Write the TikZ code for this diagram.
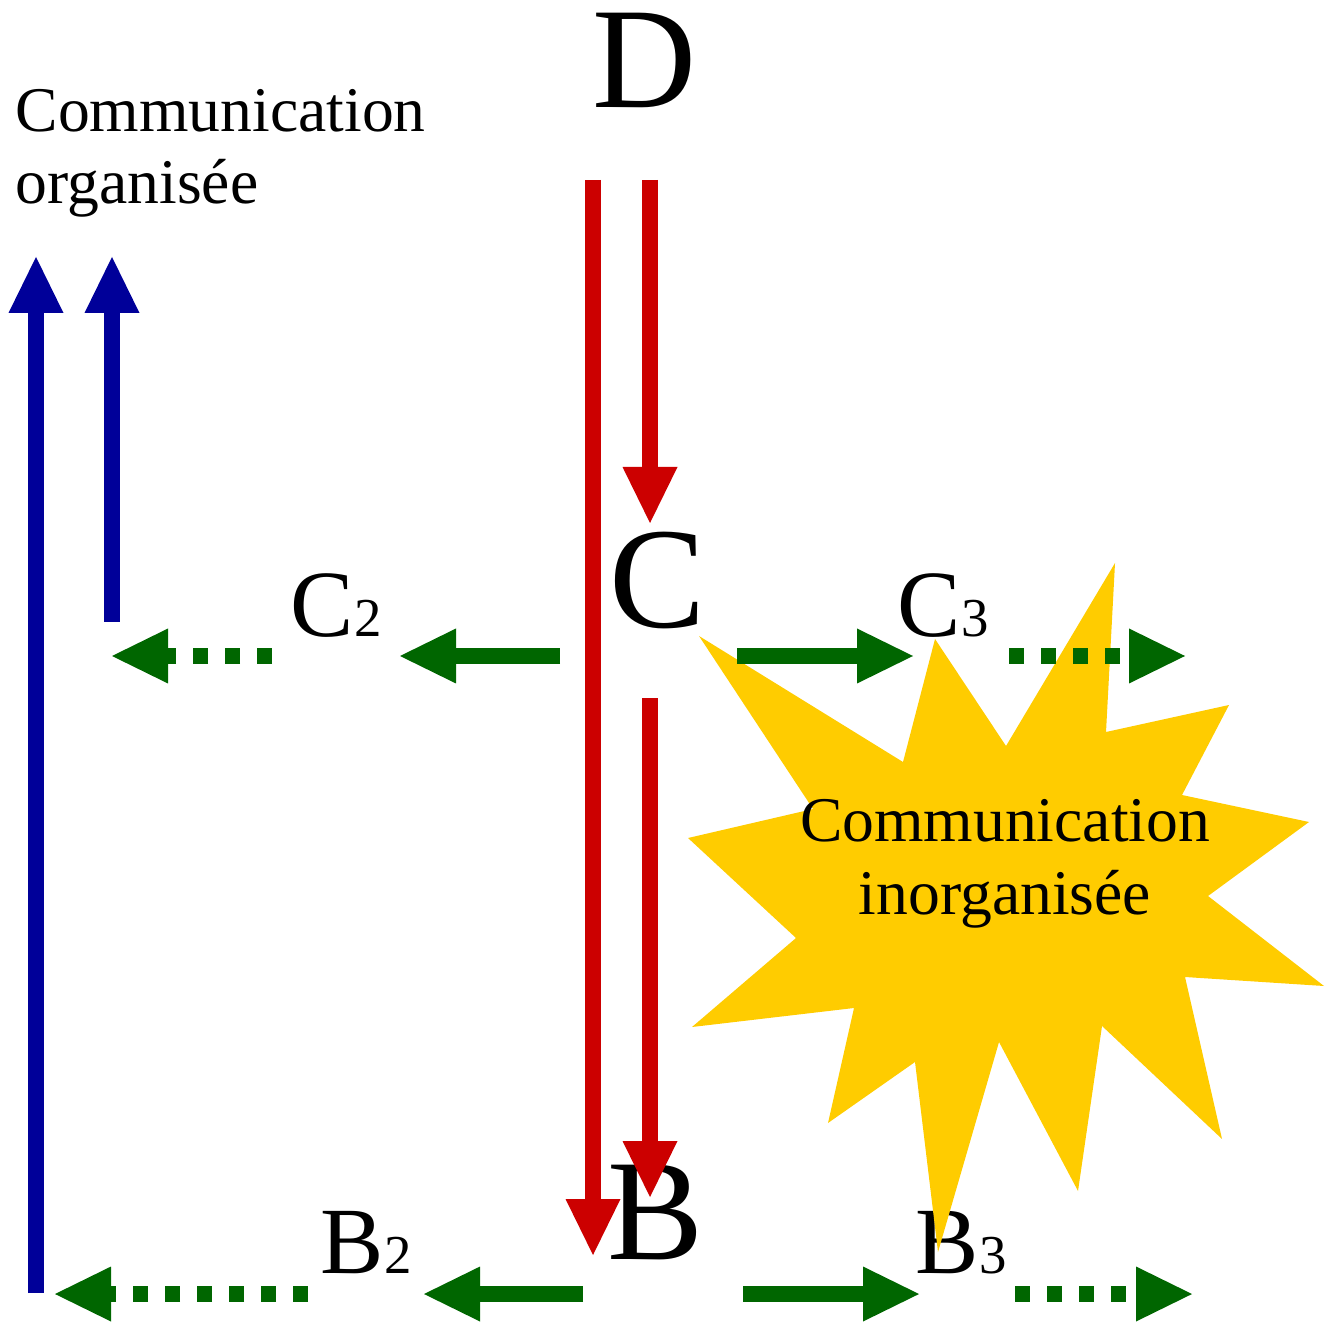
\documentclass[tikz,border=0pt]{standalone}
\usepackage{fontspec}
\setmainfont{Liberation Serif}
\usetikzlibrary{arrows.meta}

\definecolor{orgblue}{RGB}{0,0,153}
\definecolor{flowred}{RGB}{204,0,0}
\definecolor{sidegreen}{RGB}{0,102,0}
\definecolor{burstyellow}{RGB}{255,204,0}

\tikzset{
  flow/.style={line width=1.6mm, -{Triangle[length=5.6mm,width=5.5mm,line width=0pt]}},
  up/.style={flow, draw=orgblue},
  down/.style={flow, draw=flowred},
  side/.style={flow, draw=sidegreen},
  sidedots/.style={side, dash pattern=on 1.5mm off 1.7mm},
  big/.style={font=\fontsize{41}{41}\selectfont, inner sep=0pt, anchor=base},
  lbl/.style={font=\fontsize{27}{27}\selectfont, inner sep=0pt, anchor=base west},
  txt/.style={font=\fontsize{18.1}{20.5}\selectfont, inner sep=0pt},
  burst/.style={fill=burstyellow}
}
\newcommand{\idx}[2]{#1{\fontsize{15.6}{16}\selectfont #2}}

\begin{document}
\begin{tikzpicture}
\useasboundingbox (0,0) rectangle (13.32,13.22);

\node[lbl] (B3) at (9.15,0.49) {\idx{B}{3}};

% The burst
\fill[burst] (6.99,6.86) -- (9.03,5.60) -- (9.35,6.83) -- (10.06,5.76)
  -- (11.15,7.59) -- (11.06,5.90) -- (12.29,6.17) -- (11.82,5.27)
  -- (13.09,5.00) -- (12.08,4.26) -- (13.24,3.36) -- (11.85,3.45)
  -- (12.22,1.83) -- (11.02,2.96) -- (10.78,1.31) -- (9.99,2.80)
  -- (9.38,0.70) -- (9.15,2.60) -- (8.28,1.99) -- (8.54,3.14)
  -- (6.92,2.95) -- (7.96,3.84) -- (6.88,4.84) -- (8.13,5.13) -- cycle;
% base is the last line here
\node[txt, align=center, anchor=base] (wild) at (10.05,4.08) {Communication\\inorganisée};

% Levels
\node[big] (D) at (6.45,12.14) {D};
\node[big] (C) at (6.58,6.94) {C};
\node[big] (B) at (6.56,0.63) {B};

\node[lbl] (C2) at (2.90,6.85) {\idx{C}{2}};
\node[lbl] (C3) at (8.97,6.85) {\idx{C}{3}};
\node[lbl] (B2) at (3.20,0.49) {\idx{B}{2}};

\node[txt, align=left, anchor=base west] (tidy) at (0.15,11.18) {Communication\\organisée};

% Arrow ends
\coordinate (upA-s) at (0.36,0.29);   \coordinate (upA-e) at (0.36,10.65);
\coordinate (upB-s) at (1.12,7.00);   \coordinate (upB-e) at (1.12,10.65);
\coordinate (dA-s) at (5.93,11.42);   \coordinate (dA-e) at (5.93,0.67);
\coordinate (dB-s) at (6.50,11.42);   \coordinate (dB-e) at (6.50,7.99);
\coordinate (cB-s) at (6.50,6.24);    \coordinate (cB-e) at (6.50,1.25);

\coordinate (c-l1) at (5.60,6.66);    \coordinate (c-l2) at (4.00,6.66);
\coordinate (c-l3) at (2.72,6.66);    \coordinate (c-l4) at (1.12,6.66);
\coordinate (c-r1) at (7.37,6.66);    \coordinate (c-r2) at (9.13,6.66);
\coordinate (c-r3) at (10.09,6.66);   \coordinate (c-r4) at (11.85,6.66);

\coordinate (b-l1) at (5.83,0.28);    \coordinate (b-l2) at (4.24,0.28);
\coordinate (b-l3) at (3.08,0.28);    \coordinate (b-l4) at (0.55,0.28);
\coordinate (b-r1) at (7.43,0.28);    \coordinate (b-r2) at (9.19,0.28);
\coordinate (b-r3) at (10.15,0.28);   \coordinate (b-r4) at (11.92,0.28);

% Upwards
\draw[up] (upA-s) -- (upA-e);
\draw[up] (upB-s) -- (upB-e);

% Downwards
\draw[down] (dA-s) -- (dA-e);
\draw[down] (dB-s) -- (dB-e);
\draw[down] (cB-s) -- (cB-e);

% Sideways
\draw[side] (c-l1) -- (c-l2);
\draw[sidedots] (c-l3) -- (c-l4);
\draw[side] (c-r1) -- (c-r2);
\draw[sidedots] (c-r3) -- (c-r4);
\draw[side] (b-l1) -- (b-l2);
\draw[sidedots] (b-l3) -- (b-l4);
\draw[side] (b-r1) -- (b-r2);
\draw[sidedots] (b-r3) -- (b-r4);
\end{tikzpicture}
\end{document}
